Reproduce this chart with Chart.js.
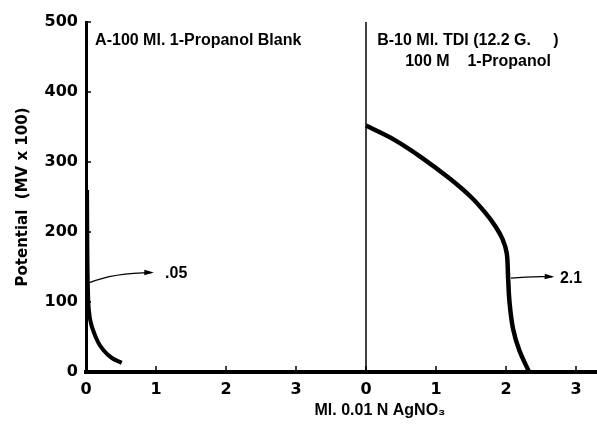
<!DOCTYPE html>
<html>
<head>
<meta charset="utf-8">
<script src="https://cdn.jsdelivr.net/npm/chart.js@4.4.1/dist/chart.umd.min.js"></script>
<style>
  html, body { margin: 0; padding: 0; background: #fff; }
  #wrap { width: 597px; height: 426px; }
</style>
</head>
<body>
<div id="wrap"><canvas id="chart"></canvas></div>
<script>
// Panel B shares the x axis, shifted right by this many units
const PANEL_B_OFFSET = 4;

const xTickValues = [0, 1, 2, 3];

// A - 100 Ml. 1-Propanol blank
const blankMl = [0.015, 0.02, 0.03, 0.045, 0.07, 0.10, 0.17, 0.25, 0.37, 0.51];
const blankMv = [260, 170, 110, 85, 70, 60, 43, 31, 20, 13];

// B - 10 Ml. TDI in 100 Ml. 1-Propanol
const tdiMl = [0, 0.4, 0.8, 1.2, 1.5, 1.7, 1.85, 1.95, 2.01, 2.03, 2.05, 2.10, 2.19, 2.33];
const tdiMv = [352, 332, 306, 276, 250, 228, 208, 190, 170, 135, 100, 62, 31, 0];

// vertical line separating the two panels
const dividerMv = [0, 500];

// end points
const blankEndPoint = '.05';
const tdiEndPoint = '2.1';

const toPoints = (xs, ys, shift) => xs.map((x, i) => ({ x: x + shift, y: ys[i] }));

const FONT = '"DejaVu Sans", sans-serif';
const LABEL_FONT = '"Liberation Sans", Arial, sans-serif';

function arrow(ctx, x0, y0, cx, cy, x1, y1) {
  ctx.beginPath();
  ctx.moveTo(x0, y0);
  ctx.quadraticCurveTo(cx, cy, x1, y1);
  ctx.stroke();
  const ang = Math.atan2(y1 - cy, x1 - cx);
  ctx.beginPath();
  ctx.moveTo(x1 + 2, y1);
  ctx.lineTo(x1 - 8 * Math.cos(ang - 0.35), y1 - 8 * Math.sin(ang - 0.35));
  ctx.lineTo(x1 - 8 * Math.cos(ang + 0.35), y1 - 8 * Math.sin(ang + 0.35));
  ctx.closePath();
  ctx.fill();
}

const notesPlugin = {
  id: 'notes',
  afterDraw(chart) {
    const { ctx } = chart;
    const xs = chart.scales.x, ys = chart.scales.y;
    const px = v => xs.getPixelForValue(v);
    const py = v => ys.getPixelForValue(v);
    ctx.save();
    ctx.strokeStyle = '#000';
    ctx.fillStyle = '#000';

    // inward tick marks
    ctx.lineWidth = 1.5;
    xs.ticks.forEach(t => {
      const x = px(t.value);
      ctx.beginPath(); ctx.moveTo(x, ys.bottom); ctx.lineTo(x, ys.bottom - 6); ctx.stroke();
    });
    ys.ticks.forEach(t => {
      const y = py(t.value);
      ctx.beginPath(); ctx.moveTo(xs.left, y); ctx.lineTo(xs.left + 5, y); ctx.stroke();
    });

    // end point arrows
    ctx.lineWidth = 1.3;
    arrow(ctx, px(0.03), py(127), px(0.4), py(142), px(0.94), py(142));
    arrow(ctx, px(PANEL_B_OFFSET + 2.07), py(134), px(PANEL_B_OFFSET + 2.35), py(137),
          px(PANEL_B_OFFSET + 2.66), py(136));

    ctx.textBaseline = 'middle';
    ctx.textAlign = 'left';
    ctx.font = 'bold 16px ' + LABEL_FONT;
    ctx.fillText(blankEndPoint, px(1.13), py(140));
    ctx.fillText(tdiEndPoint, px(PANEL_B_OFFSET + 2.77), py(134));

    // panel captions
    ctx.fillText('A-100 Ml. 1-Propanol Blank', px(0.13), py(473));
    ctx.fillText('B-10 Ml. TDI (12.2 G.     )', px(PANEL_B_OFFSET + 0.16), py(473));
    ctx.fillText('100 M    1-Propanol', px(PANEL_B_OFFSET + 0.56), py(444));

    // x axis title with subscript
    ctx.textAlign = 'center';
    ctx.fillText('Ml. 0.01 N AgNO\u2083', px(4.2), 411);
    ctx.restore();
  }
};

new Chart(document.getElementById('chart'), {
  type: 'line',
  data: {
    datasets: [
      {
        label: 'A - Blank',
        data: toPoints(blankMl, blankMv, 0),
        borderColor: '#000',
        borderWidth: 4,
        pointRadius: 0,
        cubicInterpolationMode: 'monotone'
      },
      {
        label: 'B - TDI',
        data: toPoints(tdiMl, tdiMv, PANEL_B_OFFSET),
        borderColor: '#000',
        borderWidth: 4.5,
        pointRadius: 0,
        tension: 0.35
      },
      {
        label: 'divider',
        data: dividerMv.map(y => ({ x: PANEL_B_OFFSET, y })),
        borderColor: '#000',
        borderWidth: 1.5,
        pointRadius: 0
      }
    ]
  },
  options: {
    responsive: true,
    maintainAspectRatio: false,
    animation: false,
    layout: { padding: { top: 22, right: 0, left: 0, bottom: 0 } },
    plugins: {
      legend: { display: false },
      tooltip: { enabled: false }
    },
    scales: {
      x: {
        type: 'linear',
        min: 0,
        max: 7.3,
        afterBuildTicks: scale => {
          scale.ticks = xTickValues.concat(xTickValues.map(v => v + PANEL_B_OFFSET))
            .map(v => ({ value: v }));
        },
        afterFit: scale => { scale.height = 54; },
        grid: { display: false },
        border: { color: '#000', width: 4 },
        ticks: {
          color: '#000',
          padding: 0,
          font: { family: FONT, size: 16, weight: 'bold' },
          callback: v => (v >= PANEL_B_OFFSET ? v - PANEL_B_OFFSET : v)
        }
      },
      y: {
        min: 0,
        max: 500,
        afterFit: scale => { scale.width = 86; },
        grid: { display: false },
        border: { color: '#000', width: 3 },
        ticks: {
          color: '#000',
          stepSize: 100,
          padding: 0,
          font: { family: FONT, size: 16, weight: 'bold' }
        },
        title: {
          display: true,
          text: 'Potential  (MV x 100)',
          color: '#000',
          padding: { top: 14 },
          font: { family: FONT, size: 15, weight: 'bold' }
        }
      }
    }
  },
  plugins: [notesPlugin]
});
</script>
</body>
</html>
